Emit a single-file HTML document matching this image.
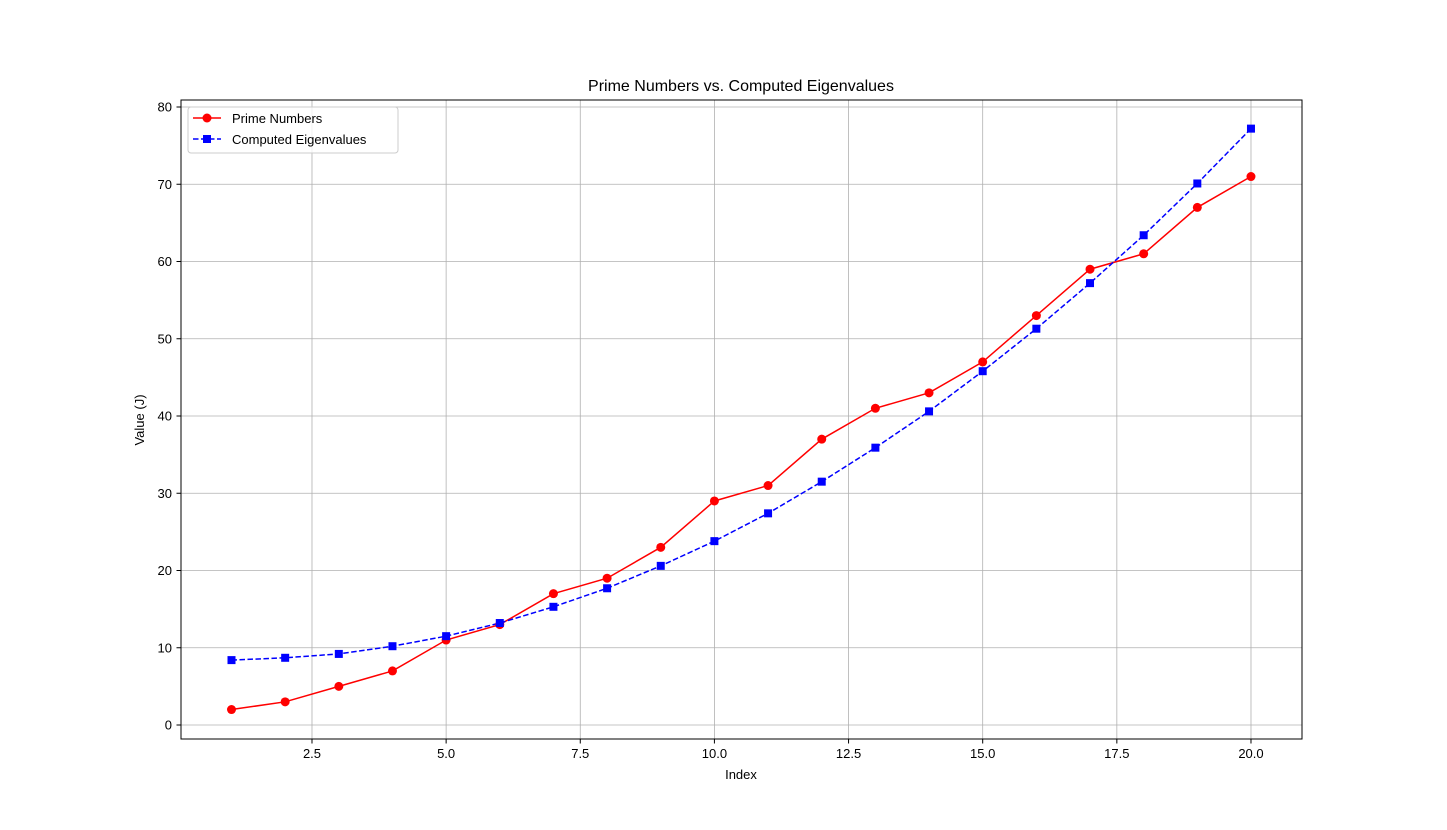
<!DOCTYPE html>
<html><head><meta charset="utf-8"><style>
body{margin:0;background:#fff;}
svg{display:block;font-family:"Liberation Sans","DejaVu Sans",sans-serif;}
</style></head><body>
<svg id="chart" width="1447" height="830">
<rect x="0" y="0" width="1447" height="830" fill="#fff"/>
<text x="741" y="91" text-anchor="middle" font-size="16">Prime Numbers vs. Computed Eigenvalues</text>
<g id="grid"></g>
<g id="ticks"></g>
<g id="series"></g>
<rect x="181" y="100" width="1121" height="639" fill="none" stroke="#000" stroke-width="1"/>
<text x="741" y="779" text-anchor="middle" font-size="13">Index</text>
<text transform="translate(144,420) rotate(-90)" text-anchor="middle" font-size="13">Value (J)</text>
<g>
<rect x="188" y="107" width="210" height="46" rx="3" fill="#fff" fill-opacity="0.8" stroke="#ccc"/>
<g>
<line x1="193" y1="118" x2="221" y2="118" stroke="red" stroke-width="1.5"/>
<circle cx="207" cy="118" r="4.5" fill="red"/>
<text x="232" y="123" font-size="13">Prime Numbers</text></g>
<g>
<line x1="193" y1="139" x2="221" y2="139" stroke="blue" stroke-width="1.5" stroke-dasharray="5.5,2.5"/>
<rect x="203" y="135" width="8" height="8" fill="blue"/>
<text x="232" y="144" font-size="13">Computed Eigenvalues</text></g>
</g>
</svg>
<script>
const indices=[1,2,3,4,5,6,7,8,9,10,11,12,13,14,15,16,17,18,19,20];
const primes=[2,3,5,7,11,13,17,19,23,29,31,37,41,43,47,53,59,61,67,71];
const eigen=[8.4,8.7,9.2,10.2,11.5,13.2,15.3,17.7,20.6,23.8,27.4,31.5,35.9,40.6,45.8,51.3,57.2,63.4,70.1,77.2];
const xTicks=[2.5,5.0,7.5,10.0,12.5,15.0,17.5,20.0];
const yTicks=[0,10,20,30,40,50,60,70,80];
const NS="http://www.w3.org/2000/svg";
const X=v=>231.5+(v-1)*53.657;
const Y=v=>725-v*7.725;
function mk(t,a,p){const e=document.createElementNS(NS,t);for(const k in a)e.setAttribute(k,a[k]);p.appendChild(e);return e;}
const grid=document.getElementById('grid'),ticks=document.getElementById('ticks'),ser=document.getElementById('series');
xTicks.forEach(v=>{const x=X(v);
const g=mk('line',{x1:x,x2:x,y1:100,y2:739,stroke:'#b0b0b0','stroke-width':0.8},grid);


mk('line',{x1:x,x2:x,y1:739,y2:743.5,stroke:'#000'},ticks);
const t=mk('text',{x:x,y:758,'text-anchor':'middle','font-size':13},ticks);t.textContent=v.toFixed(1);

});
yTicks.forEach(v=>{const y=Y(v);
const g=mk('line',{x1:181,x2:1302,y1:y,y2:y,stroke:'#b0b0b0','stroke-width':0.8},grid);


mk('line',{x1:176.5,x2:181,y1:y,y2:y,stroke:'#000'},ticks);
const t=mk('text',{x:172,y:y+4.5,'text-anchor':'end','font-size':13},ticks);t.textContent=v;

});
const pl=mk('polyline',{points:indices.map((d,i)=>X(d)+','+Y(primes[i])).join(' '),fill:'none',stroke:'red','stroke-width':1.5},ser);


const el=mk('polyline',{points:indices.map((d,i)=>X(d)+','+Y(eigen[i])).join(' '),fill:'none',stroke:'blue','stroke-width':1.5,'stroke-dasharray':'5.5,2.5'},ser);


indices.forEach((d,i)=>{
const c=mk('circle',{cx:X(d),cy:Y(primes[i]),r:4.5,fill:'red'},ser);


const s=mk('rect',{x:X(d)-4,y:Y(eigen[i])-4,width:8,height:8,fill:'blue'},ser);

});
</script>
</body></html>
